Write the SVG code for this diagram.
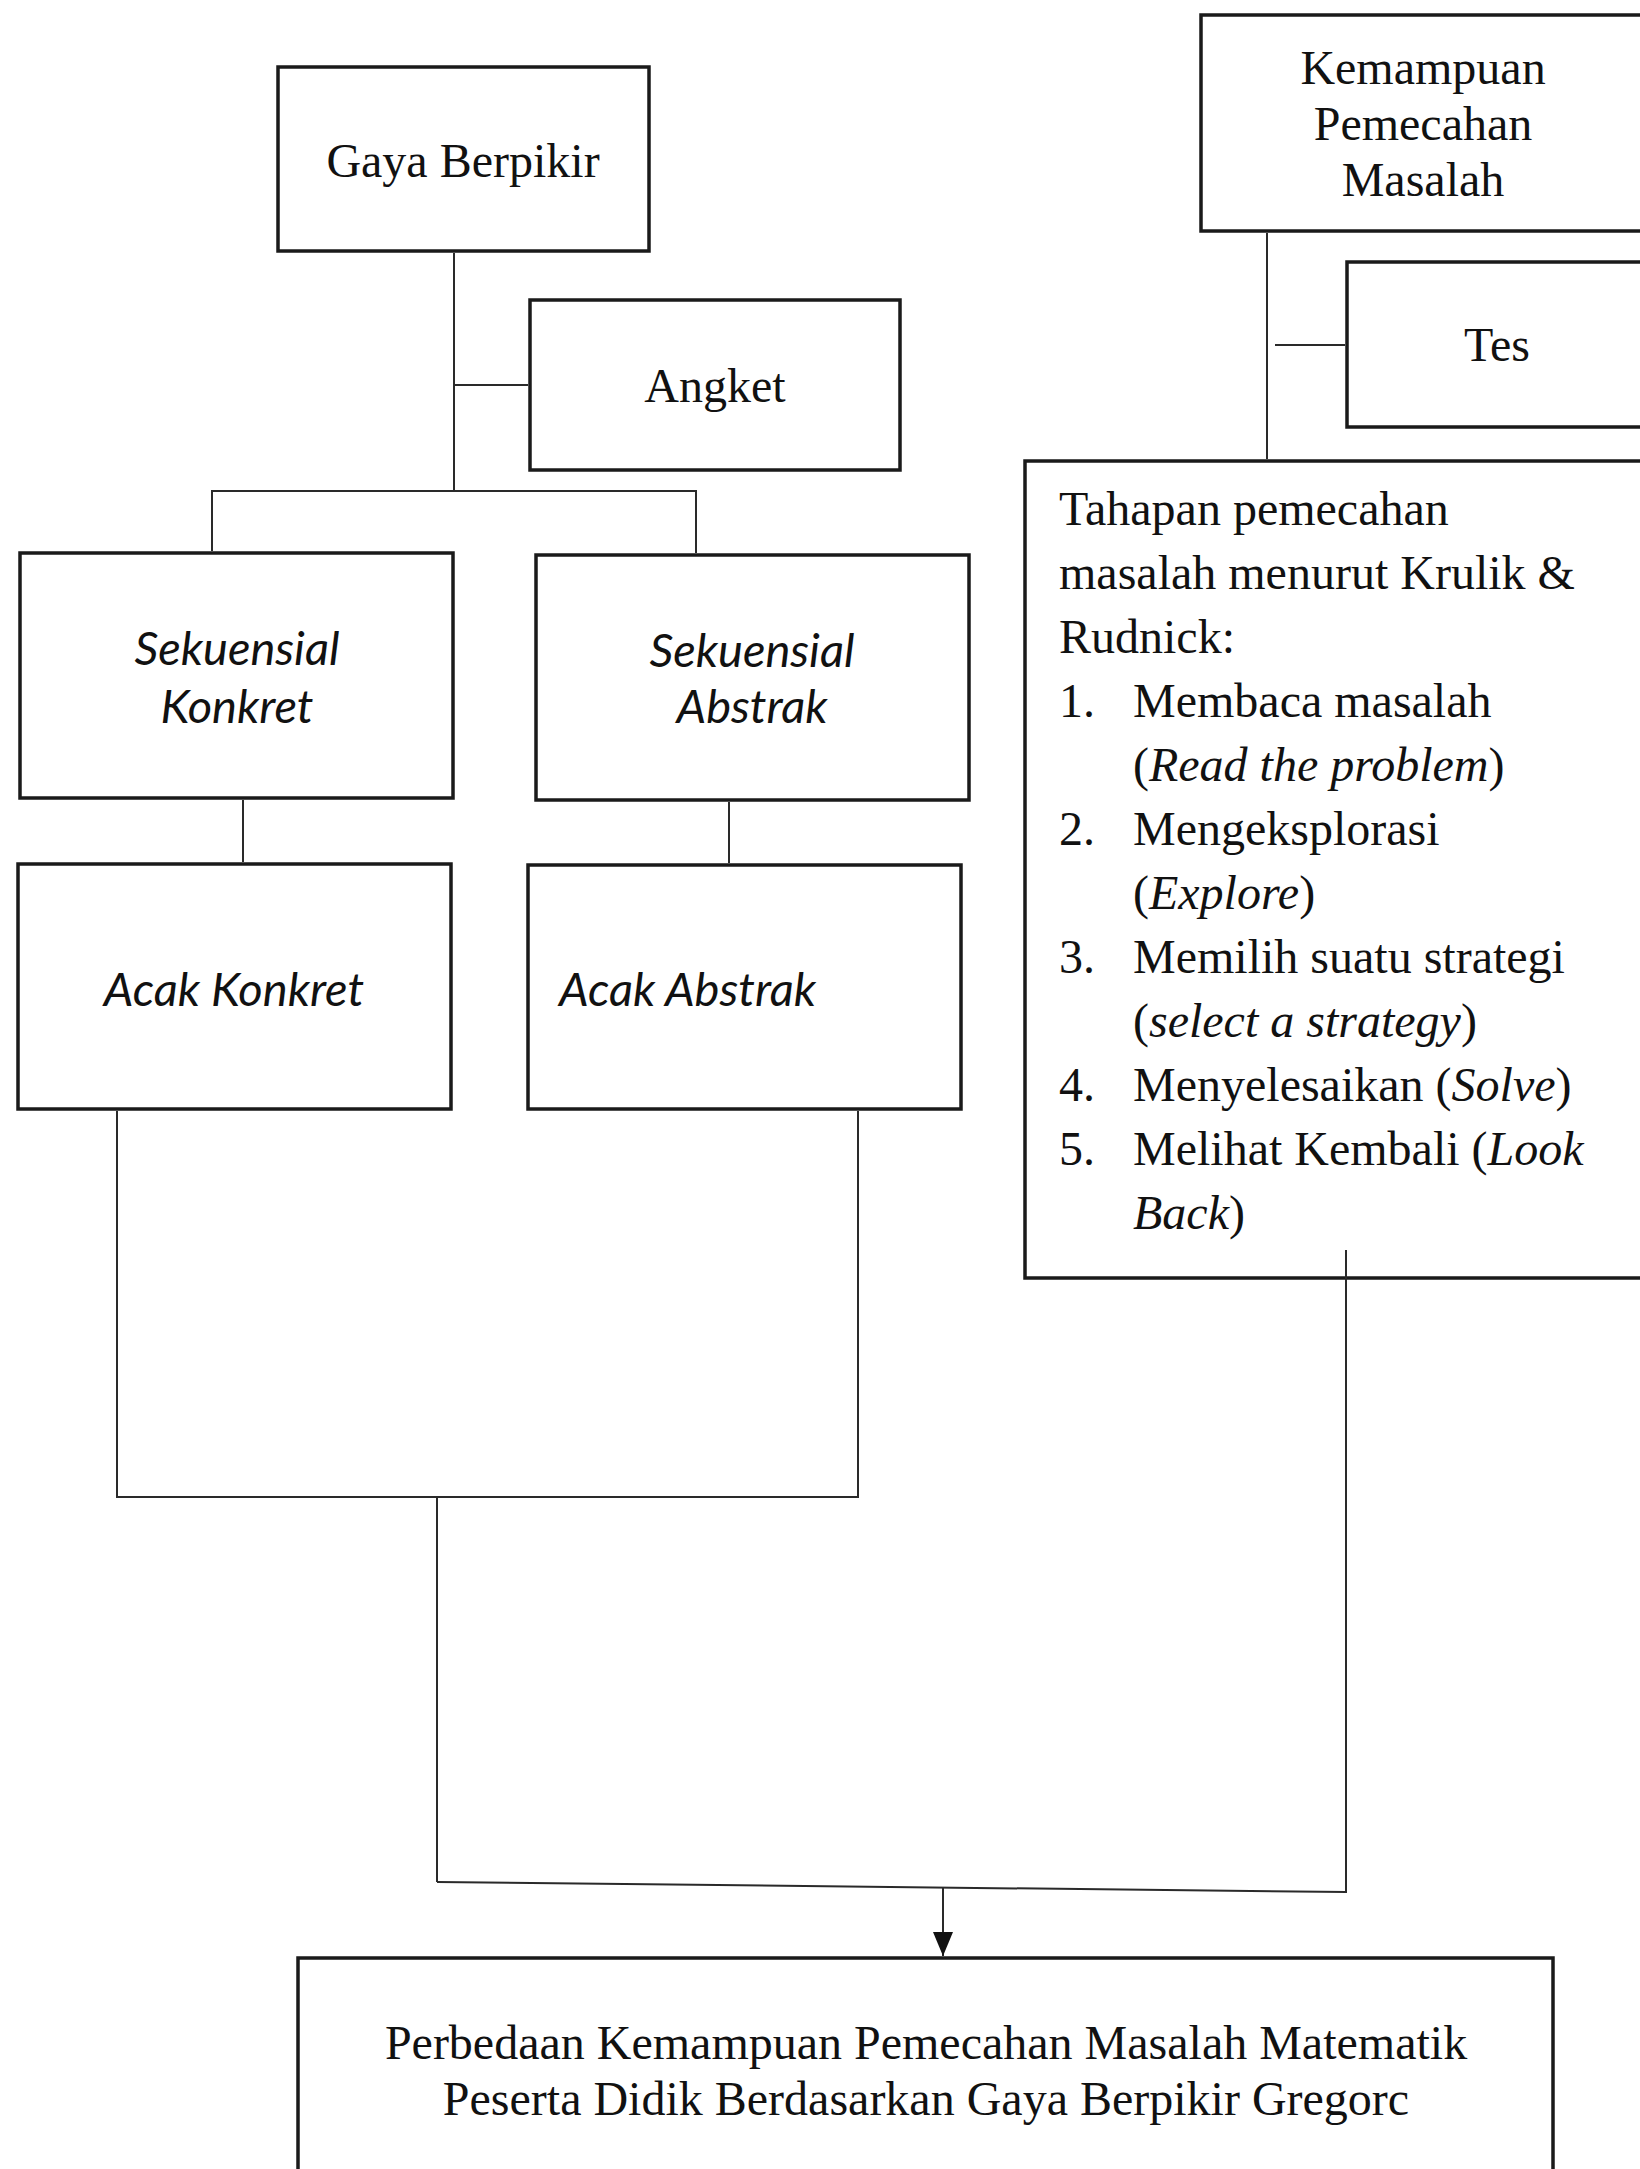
<svg xmlns="http://www.w3.org/2000/svg" width="1640" height="2169" viewBox="0 0 1640 2169">
<style>
.box{fill:#fff;stroke:#1a1a1a;stroke-width:3.5}
.ln{fill:none;stroke:#2a2a2a;stroke-width:2}
.t{font-family:"Liberation Serif","Times New Roman",serif;font-size:48px;fill:#111}
.c{text-anchor:middle}
.s{font-family:Lato,"Noto Sans",sans-serif;font-style:italic;font-size:47px;fill:#111}
.i{font-style:italic}
</style>
<defs>
<marker id="ah" markerWidth="24" markerHeight="20" refX="24" refY="10" orient="auto" markerUnits="userSpaceOnUse">
<path d="M0,0 L24,10 L0,20 Z" fill="#111"/>
</marker>
</defs>
<rect width="1640" height="2169" fill="#fff"/>
<g id="gaya"><rect class="box" x="278" y="67" width="371" height="184"/><text class="t c" x="463" y="177">Gaya Berpikir</text></g>
<g id="angket"><rect class="box" x="530" y="300" width="370" height="170"/><text class="t c" x="715" y="402">Angket</text></g>
<g id="kemampuan"><rect class="box" x="1201" y="15" width="460" height="216"/><text class="t c" x="1423" y="84">Kemampuan</text><text class="t c" x="1423" y="140">Pemecahan</text><text class="t c" x="1423" y="196">Masalah</text></g>
<g id="tes"><rect class="box" x="1347" y="262" width="320" height="165"/><text class="t c" x="1497" y="361">Tes</text></g>
<g id="tahapan"><rect class="box" x="1025" y="461" width="640" height="817"/>
<text class="t" x="1059" y="525">Tahapan pemecahan</text>
<text class="t" x="1059" y="589">masalah menurut Krulik &amp;</text>
<text class="t" x="1059" y="653">Rudnick:</text>
<text class="t" x="1059" y="717">1.</text><text class="t" x="1133" y="717">Membaca masalah</text>
<text class="t" x="1133" y="781">(<tspan class="i">Read the problem</tspan>)</text>
<text class="t" x="1059" y="845">2.</text><text class="t" x="1133" y="845">Mengeksplorasi</text>
<text class="t" x="1133" y="909">(<tspan class="i">Explore</tspan>)</text>
<text class="t" x="1059" y="973">3.</text><text class="t" x="1133" y="973">Memilih suatu strategi</text>
<text class="t" x="1133" y="1037">(<tspan class="i">select a strategy</tspan>)</text>
<text class="t" x="1059" y="1101">4.</text><text class="t" x="1133" y="1101">Menyelesaikan (<tspan class="i">Solve</tspan>)</text>
<text class="t" x="1059" y="1165">5.</text><text class="t" x="1133" y="1165">Melihat Kembali (<tspan class="i">Look</tspan></text>
<text class="t" x="1133" y="1229"><tspan class="i">Back</tspan>)</text>
</g>
<g id="sek-konkret"><rect class="box" x="20" y="553" width="433" height="245"/><text class="s c" x="237" y="665">Sekuensial</text><text class="s c" x="237" y="723">Konkret</text></g>
<g id="sek-abstrak"><rect class="box" x="536" y="555" width="433" height="245"/><text class="s c" x="752" y="667">Sekuensial</text><text class="s c" x="752" y="723">Abstrak</text></g>
<g id="acak-konkret"><rect class="box" x="18" y="864" width="433" height="245"/><text class="s c" x="234" y="1006">Acak Konkret</text></g>
<g id="acak-abstrak"><rect class="box" x="528" y="865" width="433" height="244"/><text class="s" x="559" y="1006">Acak Abstrak</text></g>
<g id="perbedaan"><rect class="box" x="298" y="1958" width="1255" height="240"/>
<text class="t c" x="926" y="2059">Perbedaan Kemampuan Pemecahan Masalah Matematik</text>
<text class="t c" x="926" y="2115">Peserta Didik Berdasarkan Gaya Berpikir Gregorc</text>
</g>
<g id="connectors">
<line class="ln" x1="454" y1="253" x2="454" y2="491"/>
<line class="ln" x1="454" y1="385" x2="528" y2="385"/>
<polyline class="ln" points="212,551 212,491 696,491 696,553"/>
<line class="ln" x1="243" y1="800" x2="243" y2="862"/>
<line class="ln" x1="729" y1="802" x2="729" y2="863"/>
<line class="ln" x1="1267" y1="233" x2="1267" y2="459"/>
<line class="ln" x1="1275" y1="345" x2="1345" y2="345"/>
<polyline class="ln" points="117,1111 117,1497 858,1497 858,1111"/>
<line class="ln" x1="437" y1="1497" x2="437" y2="1882"/>
<polyline class="ln" points="437,1882 1346,1892 1346,1250"/>
<line class="ln" x1="943" y1="1887" x2="943" y2="1956" marker-end="url(#ah)"/>
</g>
</svg>
